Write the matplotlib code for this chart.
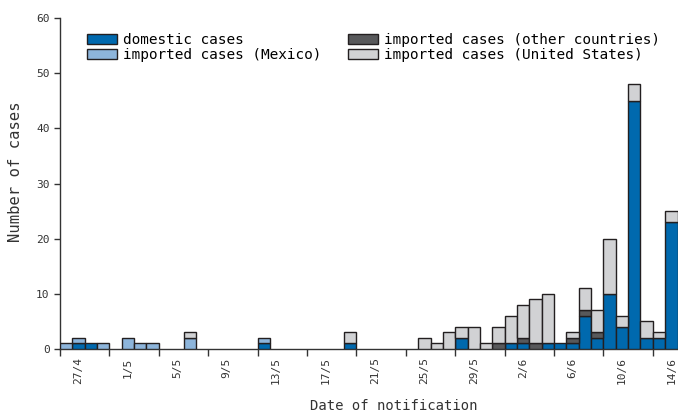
import matplotlib
matplotlib.use("Agg")
import matplotlib.pyplot as plt
import numpy as np
from matplotlib.patches import Patch

# Days from 26/4 to 14/6 (50 days)
dates = (["26/4", "27/4", "28/4", "29/4", "30/4"] +
         [f"{d}/5" for d in range(1, 32)] +
         [f"{d}/6" for d in range(1, 15)])

domestic = [0, 1, 1, 0, 0, 0, 0, 0, 0, 0,
            0, 0, 0, 0, 0, 0, 1, 0, 0, 0,
            0, 0, 0, 1, 0, 0, 0, 0, 0, 0,
            0, 0, 2, 0, 0, 0, 1, 1, 0, 1,
            1, 1, 6, 2, 10, 4, 45, 2, 2, 23]
mexico = [1, 1, 0, 1, 0, 2, 1, 1, 0, 0,
          2, 0, 0, 0, 0, 0, 1, 0, 0, 0,
          0, 0, 0, 0, 0, 0, 0, 0, 0, 0,
          0, 0, 0, 0, 0, 0, 0, 0, 0, 0,
          0, 0, 0, 0, 0, 0, 0, 0, 0, 0]
other = [0, 0, 0, 0, 0, 0, 0, 0, 0, 0,
         0, 0, 0, 0, 0, 0, 0, 0, 0, 0,
         0, 0, 0, 0, 0, 0, 0, 0, 0, 0,
         0, 0, 0, 0, 0, 1, 0, 1, 1, 0,
         0, 1, 1, 1, 0, 0, 0, 0, 0, 0]
usa = [0, 0, 0, 0, 0, 0, 0, 0, 0, 0,
       1, 0, 0, 0, 0, 0, 0, 0, 0, 0,
       0, 0, 0, 2, 0, 0, 0, 0, 0, 2,
       1, 3, 2, 4, 1, 3, 5, 6, 8, 9,
       0, 1, 4, 4, 10, 2, 3, 3, 1, 2]

series_names = ["domestic cases", "imported cases (Mexico)",
                "imported cases (other countries)", "imported cases (United States)"]
colors = ["#0069AE", "#8DB5DB", "#58595B", "#D1D2D4"]
edge = "#231F20"

plt.rcParams['font.family'] = ['DejaVu Sans Mono']

fig = plt.figure(figsize=(6.78, 4.16), dpi=100)
ax = fig.add_axes([60 / 678, 1 - 349 / 416, 617.5 / 678, 331 / 416])

x = np.arange(len(dates))
bottom = np.zeros(len(dates))
handles = []
for vals, col, name in zip([domestic, mexico, other, usa], colors, series_names):
    v = np.array(vals, dtype=float)
    mask = v > 0
    ax.bar(x[mask], v[mask], bottom=bottom[mask], width=1.0, align='edge',
           color=col, edgecolor=edge, linewidth=1.0, zorder=3)
    bottom += v
    handles.append(Patch(facecolor=col, edgecolor=edge, linewidth=1.0, label=name))

ax.set_xlim(0, len(dates))
ax.set_ylim(0, 60)
ax.set_yticks(range(0, 61, 10))
ax.tick_params(axis='y', direction='out', length=4, width=1, labelsize=8, colors="#333333")

ax.set_xticks(np.arange(0, len(dates), 4))
ax.set_xticklabels([])
ax.tick_params(axis='x', which='major', direction='out', length=5, width=1, colors="#333333")
lab_idx = np.arange(1, len(dates), 4)
ax.set_xticks(lab_idx + 0.5, minor=True)
ax.set_xticklabels([dates[i] for i in lab_idx], minor=True, rotation=90, fontsize=8)
ax.tick_params(axis='x', which='minor', length=0, pad=6, colors="#333333")

for s in ['top', 'right']:
    ax.spines[s].set_visible(False)
for s in ['left', 'bottom']:
    ax.spines[s].set_color("#333333")
    ax.spines[s].set_linewidth(1.0)

fig.text(16 / 678, 1 - 172 / 416, "Number of cases", rotation=90, ha='center', va='center',
         fontsize=11.2, color="#333333")
fig.text(394 / 678, 1 - 406 / 416, "Date of notification", ha='center', va='center',
         fontsize=10, color="#333333")

leg = fig.legend(handles=handles, ncol=2, loc='upper left',
                 bbox_to_anchor=(81 / 678, 1 - 27.5 / 416), frameon=False,
                 fontsize=10.4, handlelength=2.1, handleheight=0.7, handletextpad=0.4,
                 columnspacing=1.85, labelspacing=0.08, borderaxespad=0)

fig.savefig("out.png", dpi=100)
